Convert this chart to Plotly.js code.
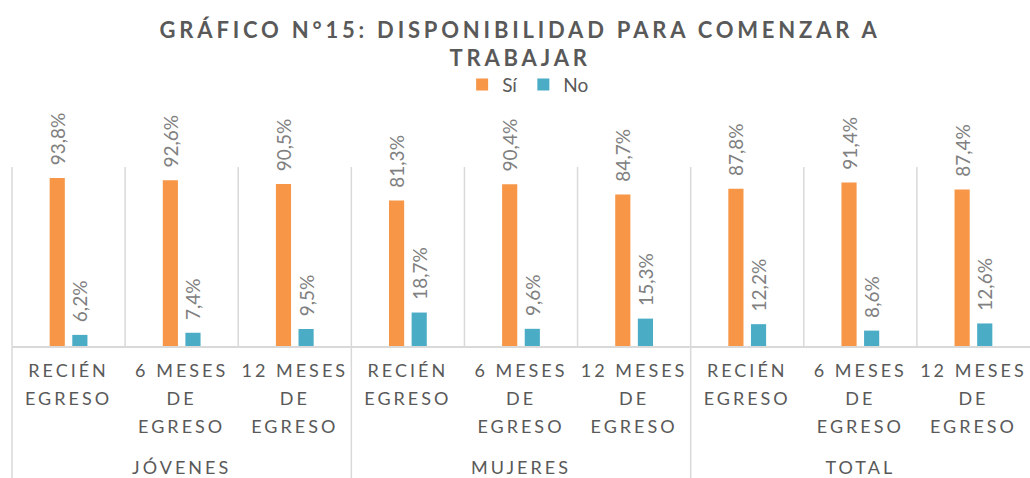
<!DOCTYPE html>
<html>
<head>
<meta charset="utf-8">
<script src="https://cdn.plot.ly/plotly-3.0.1.min.js"></script>
<style>
html,body{margin:0;padding:0;background:#fff;}
#chart .xaxislayer-above text{letter-spacing:3px;}
#chart .gtitle{letter-spacing:3.8px;}
</style>
</head>
<body>
<div id="chart" style="width:1030px;height:478px;"></div>
<script>
const groups = ["JÓVENES","JÓVENES","JÓVENES","MUJERES","MUJERES","MUJERES","TOTAL","TOTAL","TOTAL"];
const periods = ["RECIÉN<br>EGRESO","6 MESES<br>DE<br>EGRESO","12 MESES<br>DE<br>EGRESO",
                 "RECIÉN<br>EGRESO","6 MESES<br>DE<br>EGRESO","12 MESES<br>DE<br>EGRESO",
                 "RECIÉN<br>EGRESO","6 MESES<br>DE<br>EGRESO","12 MESES<br>DE<br>EGRESO"];
const si = [93.8, 92.6, 90.5, 81.3, 90.4, 84.7, 87.8, 91.4, 87.4];
const no = [6.2, 7.4, 9.5, 18.7, 9.6, 15.3, 12.2, 8.6, 12.6];

const FONT = "Lato, 'Liberation Sans', sans-serif";
const labelFont = {family:FONT, size:19, color:"#808080"};
const x = [groups, periods];

const traces = [
  {type:"bar", name:"Sí", x:x, y:si, marker:{color:"#F79646"},
   texttemplate:"\u00a0\u00a0%{y:.1f}%", textposition:"outside", textangle:-90,
   cliponaxis:false, constraintext:"none", textfont:labelFont, hoverinfo:"y"},
  {type:"bar", name:"No", x:x, y:no, marker:{color:"#4BACC6"},
   texttemplate:"\u00a0\u00a0%{y:.1f}%", textposition:"outside", textangle:-90,
   cliponaxis:false, constraintext:"none", textfont:labelFont, hoverinfo:"y"}
];

// category boundary lines; group boundaries run down through the labels
const shapes = [];
const n = groups.length;
for (let i = 0; i < n; i++) {
  const xf = i / n;
  const isGroupStart = (i === 0 || groups[i] !== groups[i-1]);
  shapes.push({type:"line", xref:"paper", yref:"paper", x0:xf, x1:xf, y0:1, y1:isGroupStart ? -0.75 : 0,
               line:{color:"#d9d9d9", width:1.5}, layer:"below"});
}

const layout = {
  width:1030, height:478,
  margin:{l:12, r:0, t:167, b:132},
  paper_bgcolor:"#fff", plot_bgcolor:"#fff",
  separators:",.",
  barmode:"group", bargap:0.6, bargroupgap:0.33,
  title:{text:"GRÁFICO N°15: DISPONIBILIDAD PARA COMENZAR A<br>TRABAJAR",
         x:0.505, xanchor:"center", y:0.921, yanchor:"middle", yref:"container",
         font:{family:FONT, size:22, color:"#595959", weight:"bold"}},
  showlegend:true,
  legend:{orientation:"h", x:0.507, xanchor:"center", y:1.46, yanchor:"middle",
          font:{family:FONT, size:19, color:"#595959"},
          itemwidth:30, tracegroupgap:0},
  shapes:shapes,
  xaxis:{type:"multicategory", showgrid:false,
         showline:true, linecolor:"#d9d9d9", linewidth:1.5, ticks:"", ticklabelstandoff:8,
         showdividers:false,
         tickfont:{family:FONT, size:18, color:"#595959"}},
  yaxis:{range:[0,100], showgrid:false, zeroline:false, showticklabels:false, showline:false}
};

Plotly.newPlot("chart", traces, layout, {displayModeBar:false, responsive:false}).then(function(gd){
  // widen line spacing of the first-level tick labels
  gd.querySelectorAll("g.xtick text tspan.line").forEach(function(t){
    const dy = t.getAttribute("dy");
    if (dy && dy.indexOf("em") > 0) {
      const v = parseFloat(dy);
      t.setAttribute("dy", (v * 1.55 / 1.3) + "em");
    }
  });
  // place the group labels at the bottom
  const box = gd.getBoundingClientRect();
  gd.querySelectorAll("g.xtick2 text").forEach(function(t){
    const r = t.getBoundingClientRect();
    const cy = r.top + r.height / 2 - box.top;
    const delta = 467 - cy;
    const y = parseFloat(t.getAttribute("y") || "0");
    t.setAttribute("y", y + delta);
  });
  // the reference has no vertical rule at the far right edge of the plot
  gd.querySelectorAll("svg path, svg line, svg rect").forEach(function(e){
    const r = e.getBoundingClientRect();
    if (r.width < 4 && r.height > 50 && (r.left - box.left) > 1015) e.style.display = "none";
  });
});
</script>
</body>
</html>
